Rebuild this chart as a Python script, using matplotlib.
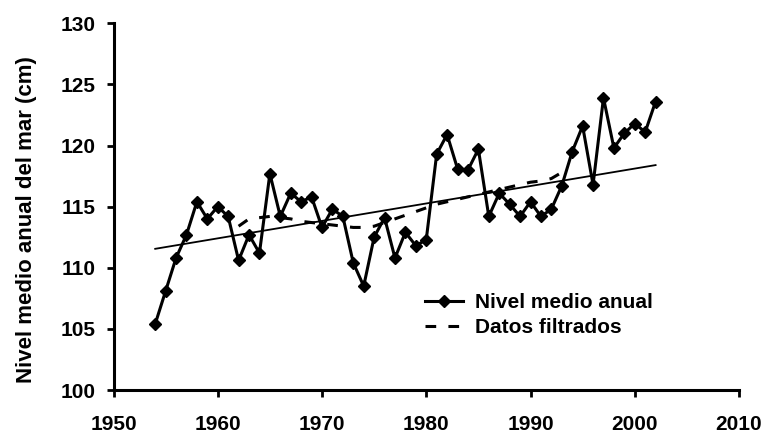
import numpy as np
import matplotlib
matplotlib.use("Agg")
import matplotlib.pyplot as plt

plt.rcParams["font.family"] = ["Liberation Sans", "DejaVu Sans"]

years = list(range(1954, 2003))
nivel = [105.4, 108.1, 110.8, 112.7, 115.4, 114.0, 115.0, 114.2, 110.6, 112.7,
         111.2, 117.7, 114.2, 116.1, 115.4, 115.8, 113.3, 114.8, 114.2, 110.4,
         108.5, 112.5, 114.1, 110.8, 112.9, 111.8, 112.3, 119.3, 120.9, 118.1,
         118.0, 119.7, 114.2, 116.1, 115.2, 114.2, 115.4, 114.2, 114.8, 116.7,
         119.5, 121.6, 116.8, 123.9, 119.8, 121.0, 121.8, 121.1, 123.6]

filt_years = list(range(1962, 1994))
filtrados = [113.4, 114.0, 114.1, 114.2, 114.1, 114.0, 113.8, 113.7, 113.6, 113.5,
             113.4, 113.3, 113.3, 113.4, 113.7, 114.0, 114.3, 114.6, 114.9, 115.2,
             115.4, 115.6, 115.8, 116.0, 116.2, 116.4, 116.6, 116.8, 117.0, 117.1,
             117.3, 117.8]

trend_years = [1954, 2002]
trend_vals = [111.55, 118.4]

W, H = 765, 436
fig = plt.figure(figsize=(W / 100, H / 100), dpi=100)
ax = fig.add_axes([113.5 / W, (H - 390) / H, 625.5 / W, 366.7 / H])

ax.plot(trend_years, trend_vals, color="black", lw=1.3)
ax.plot(filt_years, filtrados, color="black", lw=2.2, ls=(0, (3.5, 4)),
        label="Datos filtrados")
ax.plot(years, nivel, color="black", lw=2.2, marker="D", ms=6,
        label="Nivel medio anual")

ax.set_xlim(1950, 2010)
ax.set_ylim(100, 130)
ax.set_xticks(range(1950, 2011, 10))
ax.set_yticks(range(100, 131, 5))
for s in ["top", "right"]:
    ax.spines[s].set_visible(False)
for s in ["left", "bottom"]:
    ax.spines[s].set_linewidth(2.2)
ax.tick_params(width=2, length=5, labelsize=15)
ax.tick_params(axis="x", pad=13)
ax.tick_params(axis="y", pad=8)
for lab in ax.get_xticklabels() + ax.get_yticklabels():
    lab.set_fontweight("bold")
ax.set_ylabel("Nivel medio anual del mar (cm)", fontsize=16, fontweight="bold")
ax.yaxis.set_label_coords(-0.123, 0.466)

h, l = ax.get_legend_handles_labels()
ax.legend(h[::-1], l[::-1], loc="upper left",
          bbox_to_anchor=(425 / W, (H - 293) / H), bbox_transform=fig.transFigure,
          frameon=False, prop={"size": 15, "weight": "bold"}, numpoints=1,
          borderpad=0, borderaxespad=0,
          handlelength=1.8, labelspacing=0.3, handletextpad=0.6)

fig.savefig("out.png", dpi=100)
